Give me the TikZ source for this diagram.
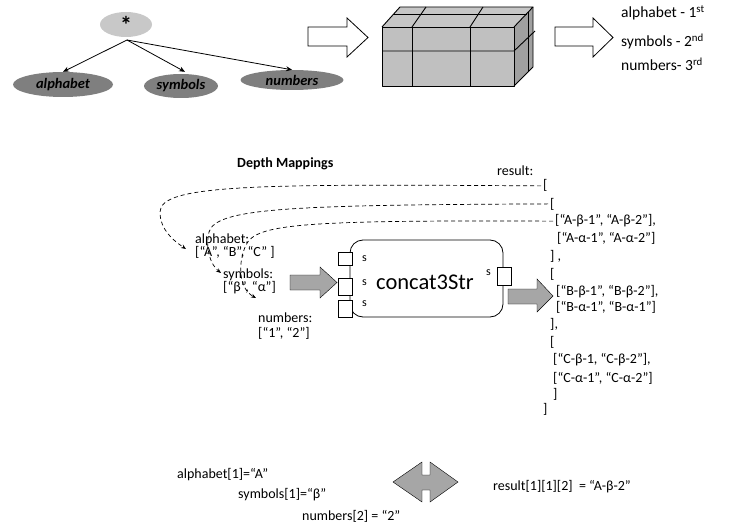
\documentclass[tikz,border=0pt]{standalone}
\usepackage{fontspec}
\setmainfont{Carlito}
\usetikzlibrary{shapes.geometric,arrows.meta}

\definecolor{lightgrey}{HTML}{C8C8C8}
\definecolor{darkgrey}{HTML}{7F7F7F}
\definecolor{arrowgrey}{HTML}{A6A6A6}
\definecolor{cubefront}{HTML}{C0C0C0}
\definecolor{cubetop}{HTML}{C6C6C6}
\definecolor{cubeside}{HTML}{A0A0A0}

\tikzset{
  txt/.style={inner sep=0pt, anchor=base west, font=\fontsize{14}{16}\selectfont},
  bigtxt/.style={txt, font=\fontsize{15.5}{18}\selectfont},
  small/.style={inner sep=0pt, anchor=west, font=\fontsize{12}{14}\selectfont},
  leaf/.style={ellipse, fill=darkgrey, inner sep=0pt,
    font=\fontsize{14.5}{16}\selectfont\bfseries\itshape},
  port/.style={draw, fill=white, line width=0.8pt, minimum width=14pt, inner sep=0pt},
  hollow/.style={draw, line width=0.8pt, fill=white},
  fatarrow/.style={fill=arrowgrey},
  treearrow/.style={line width=0.8pt, -{Stealth[length=6pt,width=5pt]}},
  mapline/.style={line width=0.7pt, dash pattern=on 4pt off 3pt,
    -{Stealth[length=5pt,width=4pt]}},
  cubeline/.style={line width=0.9pt, line join=round}
}

\begin{document}
\begin{tikzpicture}[x=1pt,y=-1pt]
\useasboundingbox (0,0) rectangle (735,529);

% ---------- tree of the three inputs ----------
\node[ellipse, fill=lightgrey, minimum width=52pt, minimum height=25pt, inner sep=0pt,
      font=\fontsize{24}{24}\selectfont\bfseries] (root) at (126,24.5) {*};
\node[leaf, minimum width=100pt, minimum height=25pt] (alpha) at (63,84.5) {alphabet};
\node[leaf, minimum width=74pt, minimum height=24pt] (symb) at (181,86) {symbols};
\node[leaf, minimum width=103pt, minimum height=20pt] (numb) at (292,80) {numbers};
\coordinate (rootfoot) at (127,40);
\draw[treearrow] (rootfoot) -- (alpha.north);
\draw[treearrow] (rootfoot) -- ([xshift=4pt,yshift=2pt]symb.north);
\draw[treearrow] (rootfoot) -- (numb.north);

% ---------- hollow arrows ----------
\draw[hollow] (308,27) -- (347,27) -- (347,18) -- (368,37.5) -- (347,57) -- (347,46) -- (308,46) -- cycle;
\draw[hollow] (555,27) -- (593,27) -- (593,18) -- (613,37.5) -- (593,57) -- (593,46) -- (555,46) -- cycle;

% ---------- block of cells ----------
\fill[cubetop] (382,27) -- (514,27) -- (533,7) -- (400,7) -- cycle;
\fill[cubeside] (514,27) -- (533,7) -- (533,67) -- (514,86) -- cycle;
\fill[cubefront] (382,27) rectangle (514,86);
\draw[cubeline] (382,27) rectangle (514,86);
\draw[cubeline] (382,27) -- (400,7) -- (533,7) -- (514,27);
\draw[cubeline] (533,7) -- (533,67) -- (514,86);
\draw[cubeline] (382,51) -- (514,51) -- (535,31);
\draw[cubeline] (412,27) -- (412,86);
\draw[cubeline] (470,27) -- (470,86);
\draw[cubeline] (412,27) -- (426,7);
\draw[cubeline] (470,27) -- (483,7);
\draw[cubeline] (393,14) -- (527,14);
\draw[cubeline] (528,12) -- (528,71);

% ---------- depth order ----------
\node[bigtxt] (ord1) at (621,18) {alphabet - 1\textsuperscript{st}};
\node[bigtxt] (ord2) at (621,47) {symbols - 2\textsuperscript{nd}};
\node[bigtxt] (ord3) at (621,71) {numbers- 3\textsuperscript{rd}};

% ---------- depth mappings ----------
\node[txt, font=\fontsize{14}{16}\selectfont\bfseries] (title) at (237,168) {Depth Mappings};

\node[txt] (alab) at (195,243) {alphabet:};
\node[txt] (alist) at (195,256) {[“A”, “B”, “C” ]};
\node[txt] (slab) at (223,278) {symbols:};
\node[txt] (slist) at (223,291) {[“β”, “α”]};
\node[txt] (nlab) at (258,322) {numbers:};
\node[txt] (nlist) at (258,337) {[“1”, “2”]};

\coordinate (tA) at (186,249);
\coordinate (tB) at (221,273);
\coordinate (tN) at (256,298);

% result listing
\node[txt] (rlab) at (497,176) {result:};
\node[txt] (r0) at (543,190) {[};
\node[txt] (r1) at (550,208) {[};
\node[txt] (rA1) at (555,225) {[“A-β-1”, “A-β-2”],};
\node[txt] (rA2) at (557,242) {[“A-α-1”, “A-α-2”]};
\node[txt] (rA3) at (550,260) {] ,};
\node[txt] (rB0) at (550,278) {[};
\node[txt] (rB1) at (556,295) {[“B-β-1”, “B-β-2”],};
\node[txt] (rB2) at (556,311) {[“B-α-1”, “B-α-1”]};
\node[txt] (rB3) at (550,328) {],};
\node[txt] (rC0) at (550,346) {[};
\node[txt] (rC1) at (553,363) {[“C-β-1, “C-β-2”],};
\node[txt] (rC2) at (553,382) {[“C-α-1”, “C-α-2”]};
\node[txt] (rC3) at (553,398) {]};
\node[txt] (rend) at (543,413) {]};

% dashed depth links
\draw[mapline] ([xshift=-2pt]r0.west) .. controls (260,184) and (160,184) .. (160,212)
  .. controls (160,230) and (174,241) .. (tA);
\draw[mapline] ([xshift=-2pt]r1.west) .. controls (290,205) and (216,208) .. (209,232)
  .. controls (205,250) and (211,265) .. (tB);
\draw[mapline] ([xshift=-2pt]rA1.west) .. controls (300,220) and (256,224) .. (246,245)
  .. controls (238,262) and (238,288) .. (tN);

% ---------- concat3Str block ----------
\draw[fatarrow] (290,275) -- (320,275) -- (320,267) -- (337,282.5) -- (320,298) -- (320,290) -- (290,290) -- cycle;
\node[draw, line width=0.8pt, rounded corners=13pt, minimum width=153pt, minimum height=77pt,
      inner sep=0pt] (cbox) at (426.5,278.5) {};
\node[inner sep=0pt, font=\fontsize{22.5}{26}\selectfont] (cname) at (425,282) {concat3Str};
\node[port, minimum height=13pt] (p1) at (345,258.5) {};
\node[port, minimum height=17pt] (p2) at (345,286.5) {};
\node[port, minimum height=17pt] (p3) at (345,308.5) {};
\node[port, minimum height=18pt] (pout) at (504,276) {};
\node[small] (s1) at (362,259) {s};
\node[small] (s2) at (362,283) {s};
\node[small] (s3) at (362,304) {s};
\node[small] (sout) at (486,273) {s};
\draw[fatarrow] (508,289) -- (537,289) -- (537,279) -- (553,296) -- (537,312) -- (537,304) -- (508,304) -- cycle;

% ---------- example ----------
\node[txt] (ex1) at (177,478) {alphabet[1]=“A”};
\node[txt] (ex2) at (238,498) {symbols[1]=“β”};
\node[txt] (ex3) at (302,520) {numbers[2] = “2”};
\draw[fatarrow] (393,482) -- (422,462) -- (422,475) -- (430,475) -- (430,462) -- (458,482)
  -- (430,502) -- (430,490) -- (422,490) -- (422,502) -- cycle;
\node[txt] (ex4) at (493,490) {result[1][1][2] \ = “A-β-2”};
\end{tikzpicture}
\end{document}
